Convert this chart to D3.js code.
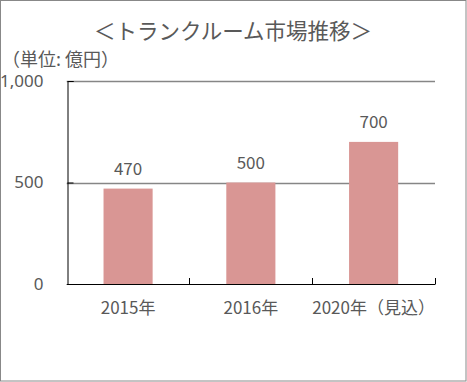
<!DOCTYPE html>
<html><head><meta charset="utf-8">
<script src="https://cdn.jsdelivr.net/npm/d3@7"></script>
<style>
html,body{margin:0;padding:0;background:#fff;}
text{font-family:"Noto Sans CJK JP","Noto Sans",sans-serif;fill:#595959;}
</style></head>
<body><svg id="c" width="467" height="382"></svg>
<script>
const categories = ["2015年", "2016年", "2020年（見込）"];
const values = [470, 500, 700];
const yTicks = [0, 500, 1000];
const title = "＜トランクルーム市場推移＞";
const unitLabel = "（単位: 億円）";

const svg = d3.select("#c");
const W = 467, H = 382;
const m = {left: 66.7, right: 435, top: 81, bottom: 284};

svg.append("rect").attr("x",0.5).attr("y",0.5).attr("width",W-1.5).attr("height",H-1.5)
  .attr("fill","#fff").attr("stroke","#888").attr("stroke-width",1);

const x = d3.scaleBand().domain(categories).range([m.left, m.right]).paddingInner(0.6).paddingOuter(0.3);
const y = d3.scaleLinear().domain([0, 1000]).range([m.bottom, m.top]);

// gridlines
svg.append("g").selectAll("line").data(yTicks.filter(d=>d>0)).join("line")
  .attr("x1", m.left).attr("x2", m.right)
  .attr("y1", d=>Math.round(y(d))+0.5).attr("y2", d=>Math.round(y(d))+0.5)
  .attr("stroke","#868686").attr("stroke-width",1.6);

// bars
svg.append("g").selectAll("rect").data(values).join("rect")
  .attr("x",(d,i)=>x(categories[i])).attr("width",x.bandwidth())
  .attr("y",d=>y(d)).attr("height",d=>y(0)-y(d))
  .attr("fill","#d99694");

// data labels
svg.append("g").selectAll("text").data(values).join("text")
  .attr("x",(d,i)=>x(categories[i])+x.bandwidth()/2)
  .attr("y",d=>y(d)-14)
  .attr("text-anchor","middle").attr("font-size",17)
  .text(d=>d);

// y axis
const yAxis = d3.axisLeft(y).tickValues(yTicks).tickSize(-6).tickPadding(24).tickFormat(d3.format(","));
const gy = svg.append("g").attr("transform",`translate(${Math.round(m.left)+0.5},0)`).call(yAxis);
gy.select(".domain").attr("stroke","#000");
gy.selectAll(".tick line").attr("stroke","#000");
gy.selectAll(".tick text").attr("font-size",17).attr("fill","#595959")
  .style("font-family","'Noto Sans','Liberation Sans',sans-serif");

// x axis line and boundary ticks
const xb = svg.append("g");
xb.append("line").attr("x1",m.left).attr("x2",m.right+0.5).attr("y1",Math.round(y(0))+0.5).attr("y2",Math.round(y(0))+0.5).attr("stroke","#000");
xb.selectAll("line.t").data(categories).join("line").attr("class","t")
  .attr("x1",c=>Math.round(x(c)+x.bandwidth()/2 + x.step()/2)+0.5)
  .attr("x2",c=>Math.round(x(c)+x.bandwidth()/2 + x.step()/2)+0.5)
  .attr("y1",Math.round(y(0))).attr("y2",Math.round(y(0))-6).attr("stroke","#000");

// x labels
svg.append("g").selectAll("text").data(categories).join("text")
  .attr("x",c=>x(c)+x.bandwidth()/2).attr("y",314)
  .attr("text-anchor","middle").attr("font-size",17)
  .text(c=>c);

// title
svg.append("text").attr("x",233).attr("y",39).attr("text-anchor","middle").attr("font-size",21.5).text(title);
svg.append("text").attr("x",2).attr("y",66).attr("font-size",18).text(unitLabel);
</script></body></html>
